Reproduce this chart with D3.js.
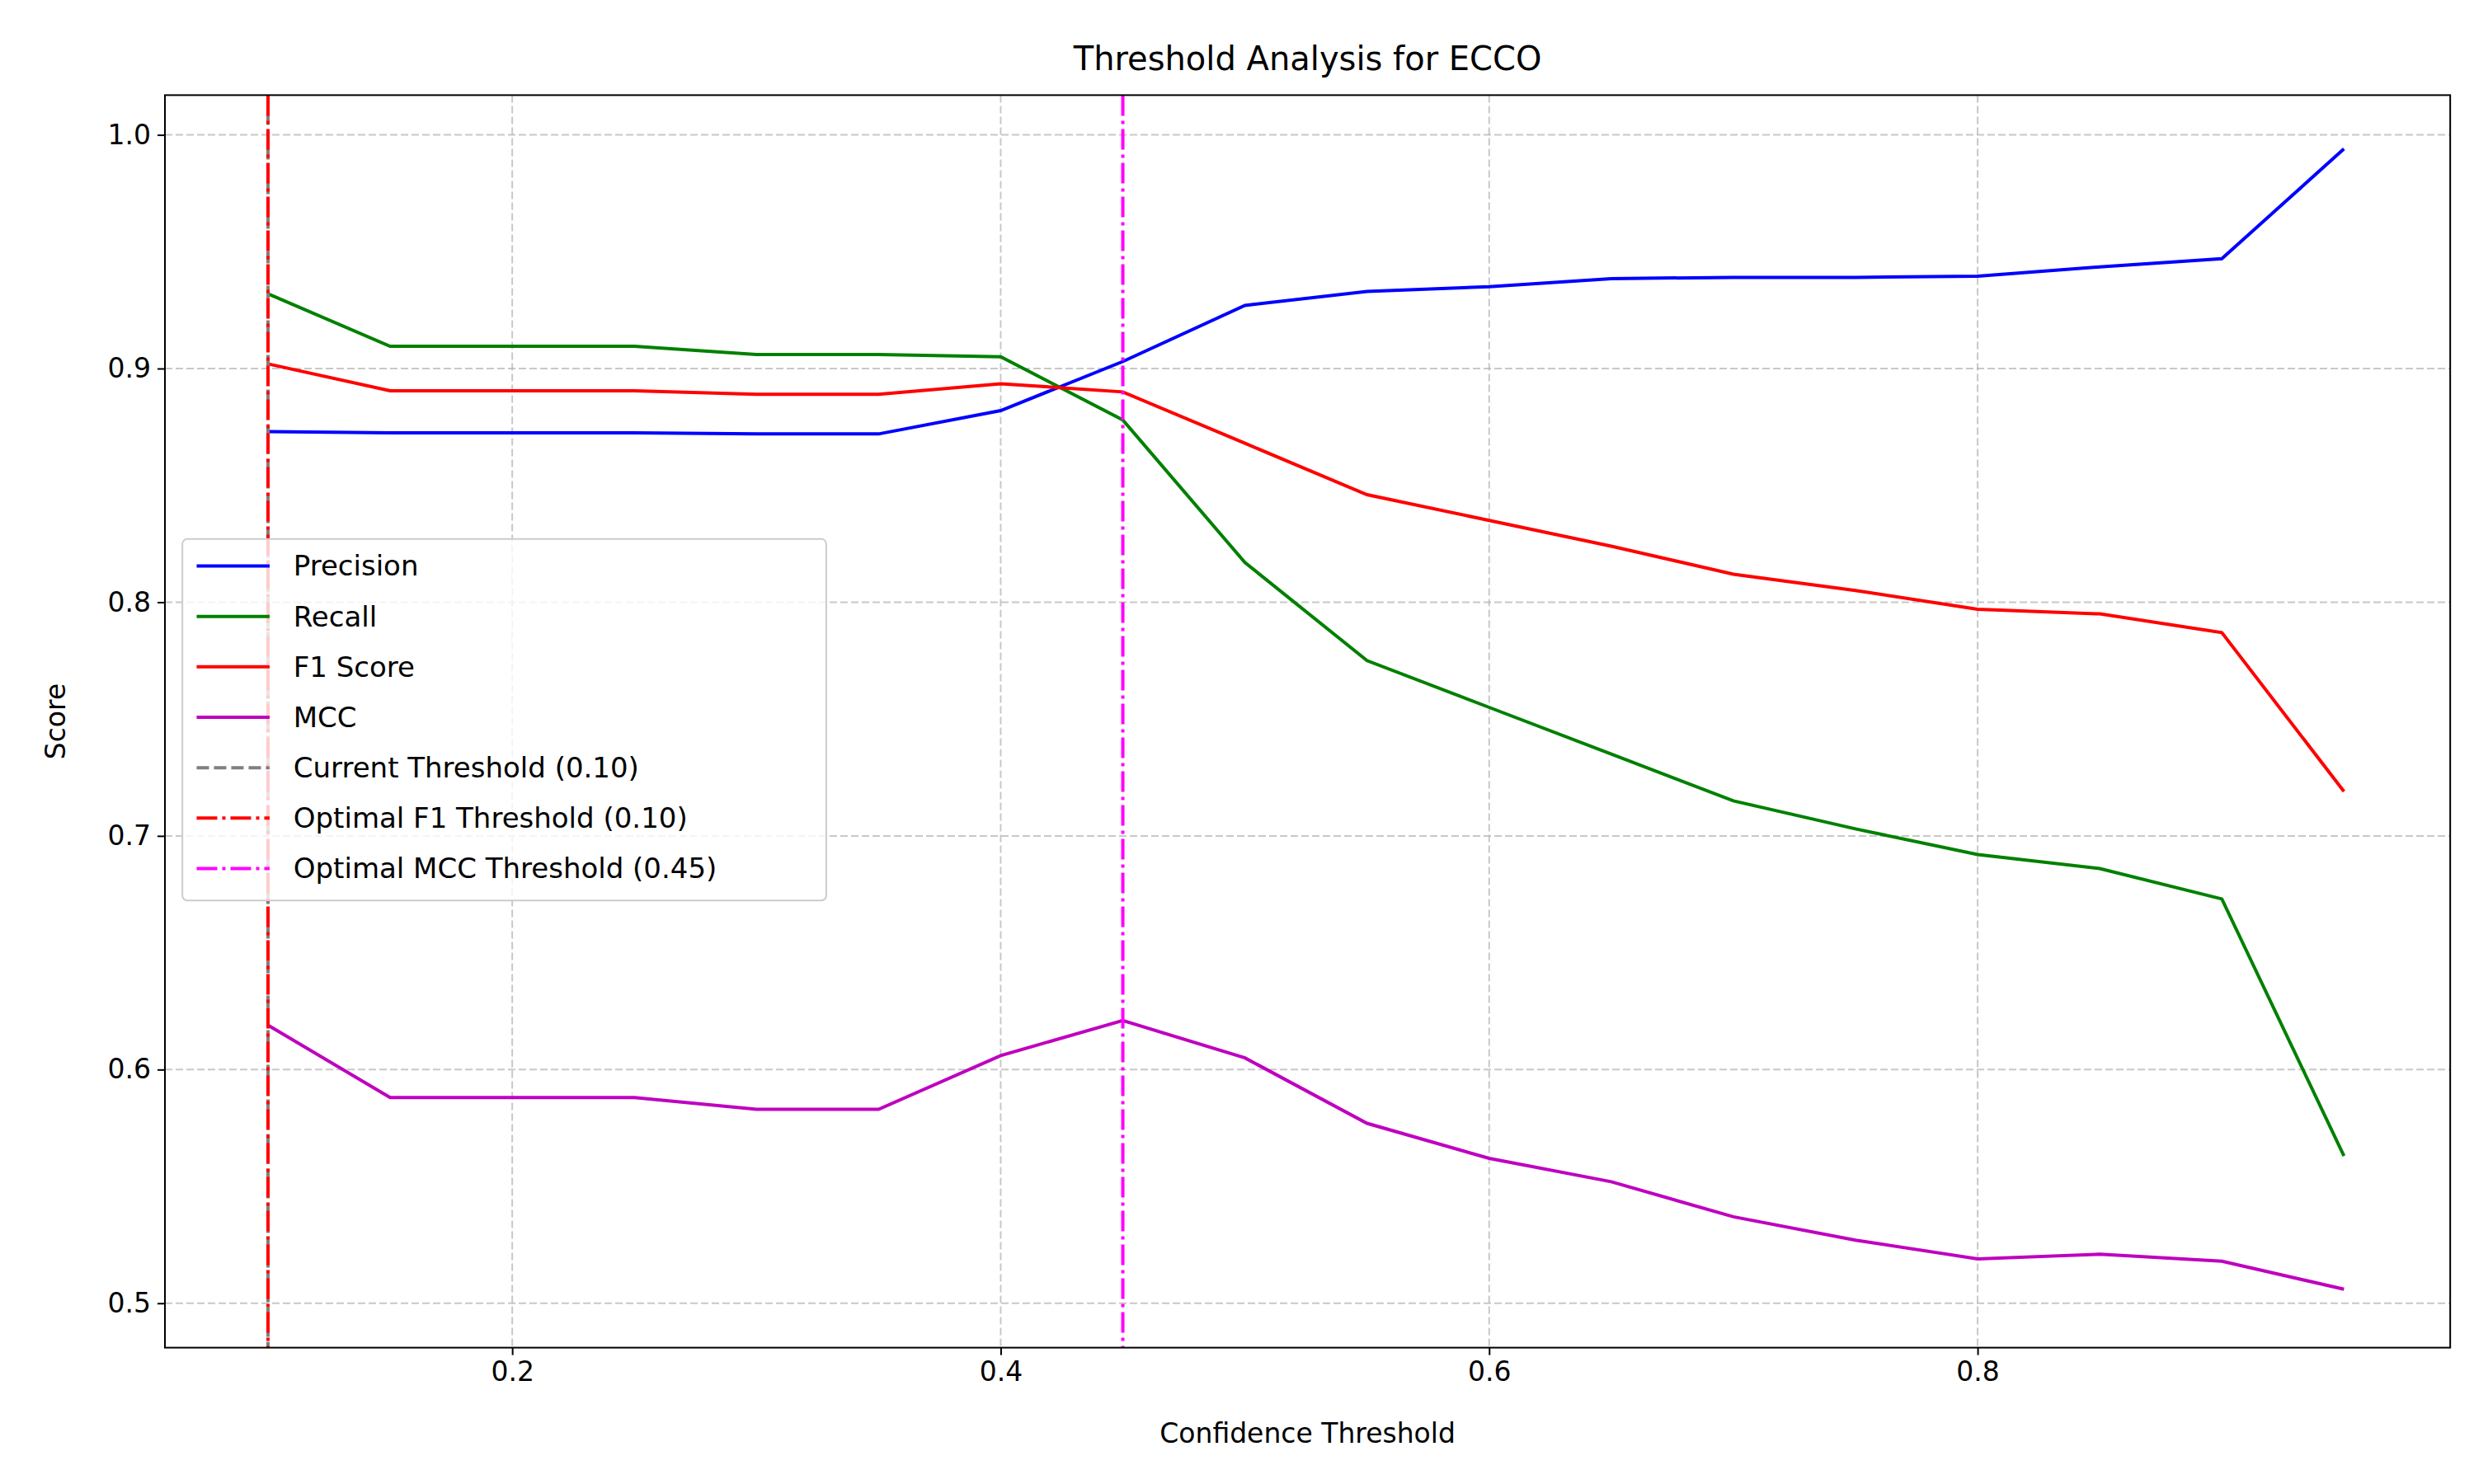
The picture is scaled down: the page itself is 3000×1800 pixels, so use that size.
<!DOCTYPE html>
<html><head><meta charset="utf-8">
<script src="https://cdn.jsdelivr.net/npm/d3@7"></script>
<style>body{margin:0;background:#fff}text{font-family:"DejaVu Sans",sans-serif}</style>
</head><body><svg width="3000" height="1800"></svg>
<script>
var thresholds = [0.10,0.15,0.20,0.25,0.30,0.35,0.40,0.45,0.50,0.55,0.60,0.65,0.70,0.75,0.80,0.85,0.90,0.95];
var precision = [.873,.8725,.8725,.8725,.872,.872,.882,.903,.927,.933,.935,.9385,.939,.939,.9395,.9435,.947,.994];
var recall = [.932,.9095,.9095,.9095,.906,.906,.905,.878,.817,.775,.755,.735,.715,.703,.692,.686,.673,.563];
var f1 = [.902,.8905,.8905,.8905,.889,.889,.8935,.890,.868,.846,.835,.824,.812,.805,.797,.795,.787,.719];
var mcc = [.619,.588,.588,.588,.583,.583,.606,.621,.605,.577,.562,.552,.537,.527,.519,.521,.518,.506];
var xTicks = [0.2,0.4,0.6,0.8];
var yTicks = [0.5,0.6,0.7,0.8,0.9,1.0];

var s = 3000/1560;
var svg = d3.select("svg");
var m = {left:104*s, right:1545*s, top:60*s, bottom:850*s};
var x = d3.scaleLinear([0.0578,0.9935],[m.left,m.right]);
var y = d3.scaleLinear([0.481,1.017],[m.bottom,m.top]);

// grid
svg.append("g").selectAll("line").data(xTicks).join("line")
  .attr("x1",d=>x(d)).attr("x2",d=>x(d)).attr("y1",m.top).attr("y2",m.bottom)
  .attr("stroke","#b0b0b0").attr("stroke-opacity",0.7).attr("stroke-width",2).attr("stroke-dasharray","9,4");
svg.append("g").selectAll("line").data(yTicks).join("line")
  .attr("y1",d=>y(d)).attr("y2",d=>y(d)).attr("x1",m.left).attr("x2",m.right)
  .attr("stroke","#b0b0b0").attr("stroke-opacity",0.7).attr("stroke-width",2).attr("stroke-dasharray","9,4");

var series = [
  {name:"Precision", v:precision, c:"#0000ff"},
  {name:"Recall", v:recall, c:"#008000"},
  {name:"F1 Score", v:f1, c:"#ff0000"},
  {name:"MCC", v:mcc, c:"#bf00bf"}
];
var line = d3.line().x((d,i)=>x(thresholds[i])).y(d=>y(d));
series.forEach(function(sr){
  svg.append("path").attr("d",line(sr.v)).attr("fill","none")
    .attr("stroke",sr.c).attr("stroke-width",4);
});

var vlines = [
  {name:"Current Threshold (0.10)", t:0.10, c:"#808080", dash:"15,6"},
  {name:"Optimal F1 Threshold (0.10)", t:0.10, c:"#ff0000", dash:"25,6,4,6"},
  {name:"Optimal MCC Threshold (0.45)", t:0.45, c:"#ff00ff", dash:"25,6,4,6"}
];
vlines.forEach(function(v){
  svg.append("line").attr("x1",x(v.t)).attr("x2",x(v.t)).attr("y1",m.top).attr("y2",m.bottom)
    .attr("stroke",v.c).attr("stroke-width",4).attr("stroke-dasharray",v.dash);
});

// axes
var xa = svg.append("g").attr("transform",`translate(0,${m.bottom})`)
  .call(d3.axisBottom(x).tickValues(xTicks).tickFormat(d3.format(".1f")).tickSize(9).tickPadding(8));
var ya = svg.append("g").attr("transform",`translate(${m.left},0)`)
  .call(d3.axisLeft(y).tickValues(yTicks).tickFormat(d3.format(".1f")).tickSize(9).tickPadding(8));
[xa,ya].forEach(a=>{a.select(".domain").remove();a.selectAll("text").attr("font-size",33).attr("fill","#000");a.selectAll("line").attr("stroke-width",2);});
svg.append("rect").attr("x",m.left).attr("y",m.top).attr("width",m.right-m.left).attr("height",m.bottom-m.top)
  .attr("fill","none").attr("stroke","#000").attr("stroke-width",2);

svg.append("text").attr("x",(m.left+m.right)/2).attr("y",44*s).attr("text-anchor","middle").attr("font-size",40).text("Threshold Analysis for ECCO");
svg.append("text").attr("x",(m.left+m.right)/2).attr("y",910*s).attr("text-anchor","middle").attr("font-size",33).text("Confidence Threshold");
svg.append("text").attr("transform",`translate(${41*s},${(m.top+m.bottom)/2}) rotate(-90)`).attr("text-anchor","middle").attr("font-size",33).text("Score");

// legend
var items = series.map(d=>({name:d.name,c:d.c,dash:null})).concat(vlines.map(d=>({name:d.name,c:d.c,dash:d.dash})));
var lg = svg.append("g").attr("transform",`translate(${115*s},${340*s})`);
lg.append("rect").attr("width",406*s).attr("height",228*s).attr("rx",6).attr("fill","#fff").attr("fill-opacity",0.8).attr("stroke","#ccc").attr("stroke-width",2);
items.forEach(function(it,i){
  var yy = (17+i*31.8)*s;
  lg.append("line").attr("x1",9*s).attr("x2",55*s).attr("y1",yy).attr("y2",yy).attr("stroke",it.c).attr("stroke-width",4).attr("stroke-dasharray",it.dash);
  lg.append("text").attr("x",70*s).attr("y",yy).attr("dy","0.35em").attr("font-size",34).text(it.name);
});
</script></body></html>
